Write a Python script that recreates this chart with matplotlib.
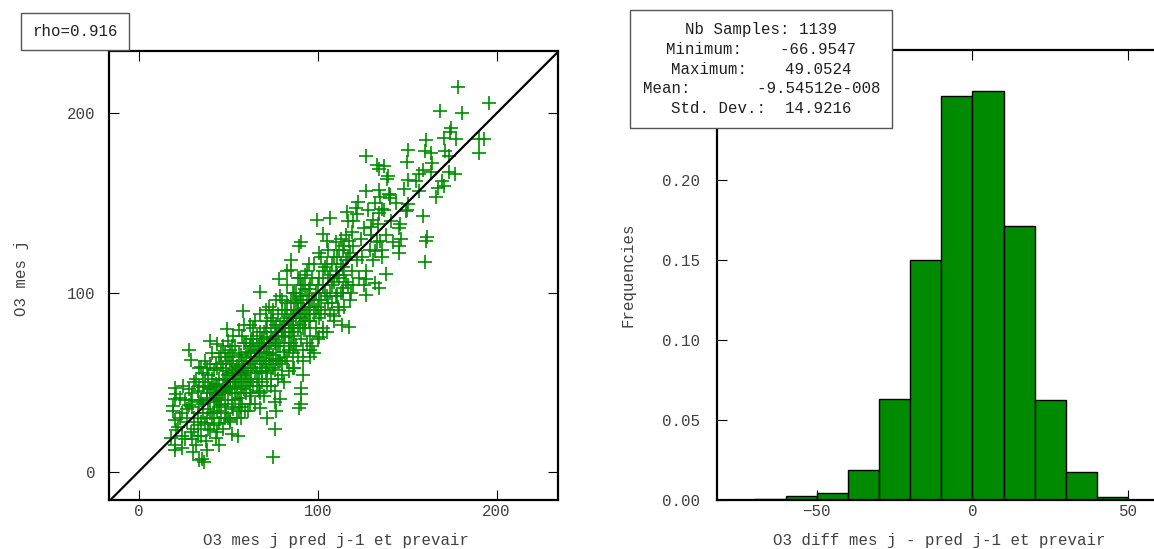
import numpy as np
import matplotlib
matplotlib.use('Agg')
import matplotlib.pyplot as plt

plt.rcParams['font.family'] = ['Liberation Mono', 'DejaVu Sans Mono']

# ---- data ----
rho_text = 'rho=0.916'

# scatter: (pred j-1 et prevair, mes j)
core_pts = [
    (22, 25), (24, 33), (23, 41), (26, 18), (27, 28), (25, 48), (28, 37), (29, 22), (30, 44), (31, 30),
    (32, 15), (32, 52), (33, 26), (34, 39), (34, 58), (35, 20), (36, 33), (36, 47), (37, 27), (37, 62),
    (38, 41), (38, 12), (39, 35), (39, 54), (40, 23), (40, 46), (41, 30), (41, 66), (42, 39), (42, 57),
    (43, 19), (43, 49), (44, 34), (44, 71), (45, 27), (45, 43), (46, 60), (46, 37), (47, 51), (47, 24),
    (48, 45), (48, 66), (49, 33), (49, 56), (50, 40), (50, 73), (51, 29), (51, 50), (52, 62), (52, 44),
    (53, 35), (53, 55), (54, 70), (54, 47), (55, 30), (55, 59), (56, 41), (56, 79), (57, 52), (57, 65),
    (58, 38), (58, 48), (59, 60), (59, 72), (60, 44), (60, 55), (61, 34), (61, 67), (62, 50), (62, 82),
    (63, 58), (63, 42), (64, 70), (64, 48), (65, 62), (65, 38), (66, 55), (66, 76), (67, 45), (67, 66),
    (68, 58), (68, 88), (69, 50), (69, 72), (70, 62), (70, 42), (71, 55), (71, 80), (72, 67), (72, 48),
    (73, 60), (73, 92), (74, 72), (74, 52), (75, 65), (75, 84), (76, 57), (76, 45), (77, 76), (77, 63),
    (78, 88), (78, 52), (79, 70), (79, 98), (80, 60), (80, 80), (81, 67), (81, 50), (82, 90), (82, 75),
    (83, 62), (83, 104), (84, 84), (84, 56), (85, 72), (85, 95), (86, 66), (86, 86), (87, 78), (87, 58),
    (88, 100), (88, 70), (89, 90), (89, 64), (90, 82), (90, 108), (91, 74), (91, 96), (92, 68), (92, 88),
    (93, 102), (93, 80), (94, 72), (94, 112), (95, 92), (95, 84), (96, 76), (96, 104), (97, 96), (97, 70),
    (98, 88), (98, 116), (99, 80), (99, 100), (100, 92), (100, 74), (101, 108), (101, 86), (102, 120), (102, 96),
    (103, 80), (103, 104), (104, 90), (104, 114), (105, 98), (105, 78), (106, 124), (106, 108), (107, 88), (107, 100),
    (108, 116), (108, 94), (109, 106), (109, 84), (110, 128), (110, 112), (111, 98), (111, 120), (112, 90), (112, 108),
    (113, 130), (113, 116), (114, 100), (114, 124), (115, 110), (115, 92), (116, 132), (116, 118), (117, 104), (117, 140),
    (118, 122), (118, 96), (119, 112), (119, 134), (120, 104), (120, 126), (122, 118), (122, 144), (123, 108), (124, 130),
    (125, 120), (126, 136), (127, 112), (128, 146), (129, 124), (130, 132), (131, 118), (132, 150), (133, 128), (134, 138),
    (136, 124), (137, 146), (138, 132), (140, 155), (141, 140), (142, 128), (144, 150), (146, 138), (148, 158), (150, 146),
]

dense_pts = [
    (35, 40), (36, 38), (38, 44), (40, 40), (41, 44), (42, 48), (43, 41), (44, 47), (45, 52), (46, 45),
    (47, 44), (48, 52), (49, 48), (50, 54), (51, 46), (52, 55), (53, 50), (54, 57), (55, 52), (56, 58),
    (57, 55), (58, 62), (59, 54), (60, 64), (61, 58), (62, 62), (63, 66), (64, 60), (65, 68), (66, 64),
    (67, 70), (68, 66), (69, 74), (70, 70), (71, 66), (72, 75), (73, 72), (74, 78), (75, 74), (76, 80),
    (77, 70), (78, 78), (79, 82), (80, 76), (81, 84), (82, 80), (83, 86), (84, 78), (85, 88), (86, 82),
    (87, 90), (88, 86), (89, 94), (90, 88), (91, 86), (92, 96), (93, 90), (94, 98), (95, 96), (96, 92),
    (38, 30), (44, 58), (50, 64), (56, 50), (62, 70), (68, 78), (74, 62), (80, 90), (86, 76), (92, 104),
    (39, 48), (45, 36), (51, 60), (57, 44), (63, 74), (69, 62), (75, 90), (81, 72), (87, 100), (93, 84),
    (30, 36), (33, 45), (42, 33), (48, 38), (54, 40), (60, 50), (66, 48), (72, 56), (78, 62), (84, 68),
    (33, 33), (29, 40), (27, 35), (31, 24), (36, 55), (40, 60), (46, 66), (52, 70), (58, 76), (64, 80),
]

extra_pts = [
    (23, 30), (24, 20), (26, 40), (28, 46), (30, 18), (31, 50), (33, 20), (34, 48), (35, 28), (37, 50),
    (38, 58), (39, 24), (40, 33), (41, 52), (42, 26), (43, 60), (44, 40), (45, 64), (46, 30), (47, 58),
    (48, 30), (49, 62), (50, 47), (51, 68), (52, 36), (53, 64), (54, 52), (55, 44), (56, 66), (57, 36),
    (58, 56), (59, 46), (60, 72), (61, 50), (62, 44), (63, 52), (64, 74), (65, 56), (66, 70), (67, 52),
    (68, 72), (69, 56), (70, 78), (71, 60), (72, 84), (73, 66), (74, 86), (75, 58), (76, 72), (77, 82),
    (78, 70), (79, 62), (80, 96), (81, 78), (82, 64), (83, 94), (84, 72), (85, 80), (86, 100), (87, 70),
    (88, 94), (89, 80), (90, 98), (91, 104), (92, 80), (93, 110), (94, 88), (95, 102), (96, 84), (97, 108),
    (98, 96), (99, 90), (100, 104), (101, 96), (102, 88), (103, 112), (104, 100), (105, 116), (106, 94), (107, 110),
    (108, 104), (109, 120), (110, 98), (111, 110), (112, 124), (113, 100), (114, 114), (115, 126), (116, 106), (117, 120),
    (47, 70), (53, 76), (59, 82), (65, 84), (71, 90), (77, 96), (83, 112), (89, 108), (95, 116), (101, 122),
    (44, 22), (50, 30), (56, 34), (62, 38), (68, 44), (74, 48), (80, 54), (86, 58), (92, 62), (98, 66),
]

outer_pts = [
    (178.2, 214.9), (195.9, 205.9), (168.3, 201.2), (180.7, 200.0), (174.5, 191.8), (173.9, 189.8),
    (170.4, 186.3), (160.6, 185.1), (177.6, 185.5), (190.0, 185.9), (193.2, 185.9), (190.0, 178.0),
    (150.7, 179.6), (160.0, 179.0), (163.1, 178.0), (171.4, 179.0), (173.5, 176.0), (126.8, 176.0),
    (149.8, 173.1), (164.2, 172.1), (133.1, 171.1), (137.0, 170.6), (134.1, 169.2), (159.0, 168.2),
    (156.9, 166.2), (163.1, 167.2), (173.5, 167.2), (176.6, 166.2), (139.3, 165.3), (138.5, 163.3),
    (150.7, 162.7), (154.8, 162.3), (169.3, 162.3), (167.2, 158.4), (170.4, 159.4), (126.8, 156.8),
    (134.1, 157.4), (156.9, 156.8), (140.4, 154.5), (135.1, 153.5), (140.3, 152.5), (166.2, 153.5),
    (122.7, 150.5), (121.6, 147.0), (150.7, 149.6), (149.6, 145.6), (136.2, 146.6), (134.1, 144.3),
    (116.5, 144.7), (107.2, 141.7), (99.9, 140.3), (131.0, 140.7), (159.0, 142.7), (119.6, 139.7),
    (129.9, 136.8), (145.5, 135.8), (161.0, 130.9), (160.6, 128.9), (103.0, 132.9), (105.1, 128.9),
    (117.5, 128.9), (135.1, 128.9), (146.5, 129.9), (91.0, 128.0), (89.5, 126.0), (145.5, 126.0),
    (145.5, 122.1), (160.0, 117.2), (132.0, 123.1), (136.2, 120.1), (138.2, 110.3), (126.8, 107.4),
    (125.8, 104.4), (132.0, 105.4), (134.1, 102.5), (126.8, 98.5), (118.6, 99.5), (114.4, 102.5),
    (111.3, 91.7), (109.2, 86.8), (117.5, 80.9), (113.4, 81.8), (103.0, 77.9), (100.9, 75.0),
    (95.8, 68.1), (95.8, 64.2), (91.6, 54.0), (90.6, 46.5), (90.6, 43.6), (90.6, 37.7),
    (89.5, 35.7), (79.2, 40.6), (76.1, 38.7), (76.9, 33.8), (71.9, 29.8), (76.1, 23.9),
    (75.3, 8.2), (67.8, 35.7), (59.5, 33.8), (57.4, 29.8), (55.3, 20.0), (52.2, 21.0),
    (51.2, 27.9), (45.0, 15.1), (37.7, 17.1), (35.6, 7.3), (36.7, 5.3), (33.6, 6.3),
    (30.5, 11.2), (24.2, 13.1), (20.1, 12.2), (20.1, 15.1), (18.0, 19.0), (21.1, 23.0),
    (20.1, 28.9), (19.1, 36.7), (20.1, 40.6), (20.1, 46.5), (21.1, 43.6), (19.1, 33.8),
    (28.4, 68.1), (29.5, 62.2), (34.6, 58.3), (39.8, 73.0), (49.2, 79.9), (58.5, 89.7),
    (67.8, 100.5), (78.2, 107.4), (85.4, 118.2), (85.4, 112.3),
]

# histogram of mes j - pred j-1 et prevair
bin_edges = [-70, -60, -50, -40, -30, -20, -10, 0, 10, 20, 30, 40, 50]
bin_counts = [1, 3, 5, 21, 72, 171, 287, 291, 195, 71, 20, 2]
n_samples = 1139
stats_lines = [
    'Nb Samples: 1139',
    'Minimum:    -66.9547',
    'Maximum:    49.0524',
    'Mean:       -9.54512e-008',
    'Std. Dev.:  14.9216',
]

# ---- plotting ----
W, H = 1154, 549
fig = plt.figure(figsize=(W / 100, H / 100), dpi=100)

green = '#008c00'
bar_green = '#008a00'
txt_grey = '#404040'
fs = 11.3

ax1 = fig.add_axes([109.3 / W, 1 - 500 / H, 449 / W, 449 / H])
pts = core_pts + dense_pts + extra_pts + outer_pts
px = [p[0] for p in pts]
py = [p[1] for p in pts]
ax1.plot(px, py, ls='none', marker='+', ms=9.5, mew=1.2, color=green)
ax1.set_xlim(-16.4, 234.5)
ax1.set_ylim(-15.8, 234.8)
ax1.plot([-16.4, 234.5], [-16.4, 234.5], color='black', lw=1.6)
ax1.set_xticks([0, 100, 200])
ax1.set_yticks([0, 100, 200])
ax1.tick_params(direction='in', length=7, width=0.8, top=True, right=True,
                labelsize=fs, labelcolor=txt_grey)
ax1.tick_params(axis='y', pad=10)
ax1.tick_params(axis='x', pad=3)
for s in ax1.spines.values():
    s.set_linewidth(1.6)

ax2 = fig.add_axes([716.5 / W, 1 - 500 / H, 449 / W, 450 / H])
freqs = [c / n_samples for c in bin_counts]
ax2.bar(bin_edges[:-1], freqs, width=10, align='edge', color=bar_green,
        edgecolor='black', linewidth=1)
ax2.set_xlim(-82.2, 62)
ax2.set_ylim(0, 0.281)
ax2.set_xticks([-50, 0, 50])
ax2.set_yticks([0, 0.05, 0.10, 0.15, 0.20])
ax2.set_yticklabels(['0.00', '0.05', '0.10', '0.15', '0.20'])
ax2.tick_params(direction='in', length=7, width=0.8, top=True, right=False,
                labelsize=fs, labelcolor=txt_grey)
ax2.tick_params(axis='y', pad=12)
ax2.tick_params(axis='x', pad=3)
ax2.spines['right'].set_visible(False)
for s in ax2.spines.values():
    s.set_linewidth(1.6)

# labels
fig.text(336 / W, 1 - 540 / H, 'O3 mes j pred j-1 et prevair', ha='center', va='center',
         fontsize=fs, color=txt_grey)
fig.text(21.5 / W, 1 - 278 / H, 'O3 mes j', ha='center', va='center', rotation=90,
         fontsize=fs, color=txt_grey)
fig.text(939.6 / W, 1 - 540 / H, 'O3 diff mes j - pred j-1 et prevair', ha='center',
         va='center', fontsize=fs, color=txt_grey)
fig.text(627.6 / W, 1 - 275 / H, 'Frequencies', ha='center', va='center', rotation=90,
         fontsize=fs, color=txt_grey)

# boxes
fig.text(75 / W, 1 - 31.5 / H, rho_text, ha='center', va='center', fontsize=fs,
         color='#202020',
         bbox=dict(boxstyle='square,pad=0.72', fc='white', ec='#555555', lw=1))
fig.text(761.3 / W, 1 - 69 / H, '\n'.join(stats_lines), ha='center', va='center',
         multialignment='center', fontsize=fs, color='#202020', linespacing=1.4,
         bbox=dict(boxstyle='square,pad=0.78', fc='white', ec='#555555', lw=1))

fig.savefig('out.png', dpi=100)
